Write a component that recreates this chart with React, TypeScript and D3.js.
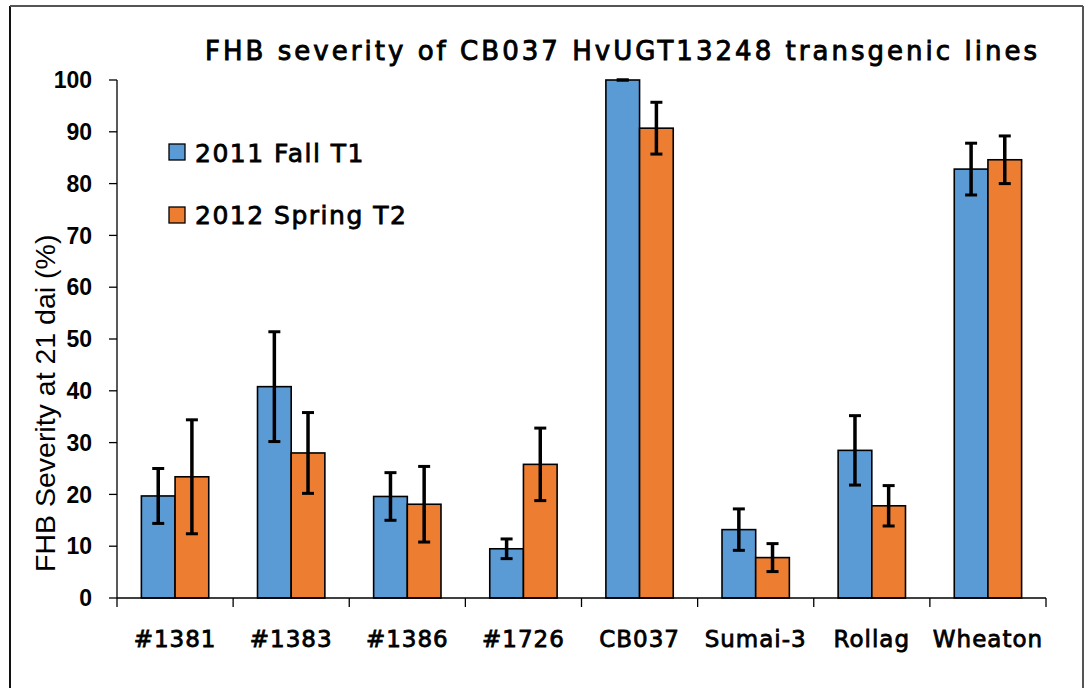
import React from "react";
import * as d3 from "d3";

const categories = ["#1381", "#1383", "#1386", "#1726", "CB037", "Sumai-3", "Rollag", "Wheaton"];
const seriesNames = ["2011 Fall T1", "2012 Spring T2"];
const fall2011 = [19.7, 40.8, 19.6, 9.5, 100, 13.2, 28.5, 82.8];
const fall2011Err = [5.3, 10.6, 4.6, 1.9, 0, 4.0, 6.7, 5.0];
const spring2012 = [23.4, 28.0, 18.1, 25.8, 90.7, 7.8, 17.8, 84.6];
const spring2012Err = [11.0, 7.8, 7.3, 7.0, 5.0, 2.7, 3.9, 4.6];
const yTicks = [0, 10, 20, 30, 40, 50, 60, 70, 80, 90, 100];
const colors = ["#5B9BD5", "#ED7D31"];

export default function App() {
  const left = 117, right = 1046, top = 80, bottom = 598;
  const x = d3.scaleBand<string>().domain(categories).range([left, right]).paddingInner(0.42).paddingOuter(0.21);
  const y = d3.scaleLinear().domain([0, 100]).range([bottom, top]);
  const step = x.step();
  const bw = x.bandwidth() / 2;
  const series = [
    { vals: fall2011, errs: fall2011Err },
    { vals: spring2012, errs: spring2012Err },
  ];
  const titleFont = "'DejaVu Sans', Verdana, sans-serif";
  return (
    <svg width={1088} height={688} style={{ position: "absolute", left: 0, top: 0, background: "#fff" }}>
      <rect x={0} y={0} width={1088} height={688} fill="#fff" />
      {/* frame */}
      <line x1={10} y1={6} x2={10} y2={688} stroke="#111" strokeWidth={2} />
      <line x1={10} y1={6} x2={1083} y2={6} stroke="#555" strokeWidth={2} />
      <line x1={1083} y1={6} x2={1083} y2={688} stroke="#555" strokeWidth={2} />

      <text x={205} y={60} fontFamily={titleFont} fontSize={26} stroke="#000" strokeWidth={0.9} textLength={832} lengthAdjust="spacing" fill="#000">
        FHB severity of CB037 HvUGT13248 transgenic lines
      </text>

      {/* bars */}
      {series.map((s, si) =>
        categories.map((c, i) => {
          const bx = (x(c) as number) + si * bw;
          return (
            <rect key={`b${si}-${i}`} x={bx} y={y(s.vals[i])} width={bw} height={bottom - y(s.vals[i])} fill={colors[si]} stroke="#000" strokeWidth={1.6} />
          );
        })
      )}
      {/* error bars */}
      {series.map((s, si) =>
        categories.map((c, i) => {
          const cx = (x(c) as number) + si * bw + bw / 2;
          const hi = y(s.vals[i] + s.errs[i]);
          const lo = y(s.vals[i] - s.errs[i]);
          return (
            <g key={`e${si}-${i}`} stroke="#000" strokeWidth={3.5}>
              <line x1={cx} x2={cx} y1={hi} y2={lo} />
              <line x1={cx - 6} x2={cx + 6} y1={hi} y2={hi} strokeWidth={3} />
              <line x1={cx - 6} x2={cx + 6} y1={lo} y2={lo} strokeWidth={3} />
            </g>
          );
        })
      )}

      {/* y axis */}
      <line x1={left} x2={left} y1={top} y2={bottom} stroke="#000" strokeWidth={1.3} />
      {yTicks.map((t) => (
        <g key={`yt${t}`}>
          <line x1={left - 8} x2={left} y1={y(t)} y2={y(t)} stroke="#000" strokeWidth={1.3} />
          <text x={92} y={y(t)} dy="0.36em" textAnchor="end" fontFamily="'Liberation Sans', Arial, sans-serif" fontWeight="bold" fontSize={23} fill="#000">
            {t}
          </text>
        </g>
      ))}
      <text transform={`translate(55,572) rotate(-90)`} textAnchor="start" fontFamily="'Liberation Sans', Arial, sans-serif" fontSize={28.5} fill="#000">
        FHB Severity at 21 dai (%)
      </text>

      {/* x axis */}
      <line x1={left} x2={right} y1={bottom} y2={bottom} stroke="#000" strokeWidth={1.3} />
      {d3.range(categories.length + 1).map((k) => (
        <line key={`xt${k}`} x1={left + k * step} x2={left + k * step} y1={bottom} y2={bottom + 9} stroke="#000" strokeWidth={1.3} />
      ))}
      {categories.map((c) => (
        <text key={`xl${c}`} x={(x(c) as number) + x.bandwidth() / 2} y={647} textAnchor="middle" fontFamily={titleFont} fontSize={23} letterSpacing={1} stroke="#000" strokeWidth={0.8} fill="#000">
          {c}
        </text>
      ))}

      {/* legend */}
      {seriesNames.map((n, i) => (
        <g key={`lg${i}`}>
          <rect x={169} y={144 + i * 63} width={16} height={16} fill={colors[i]} stroke="#000" strokeWidth={1.3} />
          <text x={195} y={161.5 + i * 62} fontFamily={titleFont} fontSize={25} letterSpacing={1.5} stroke="#000" strokeWidth={0.8} fill="#000">
            {n}
          </text>
        </g>
      ))}
    </svg>
  );
}
